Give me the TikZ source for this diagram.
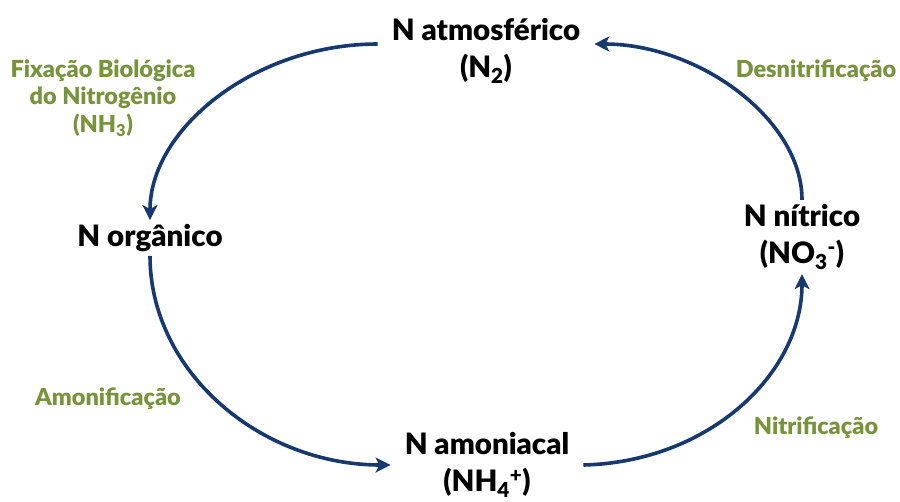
\documentclass[tikz,border=0pt]{standalone}
\usepackage{fontspec}
\setmainfont{Lato}[BoldFont={Lato Black}]
\usepackage{tikz}
\usetikzlibrary{arrows.meta,positioning}

\definecolor{cyclenavy}{RGB}{24,56,112}
\definecolor{procgreen}{RGB}{119,147,60}

\begin{document}
\begin{tikzpicture}[
    x=1pt, y=-1pt,
    stage/.style={font=\fontsize{29.5}{37}\selectfont\bfseries, align=center, inner sep=14pt, text=black},
    process/.style={font=\fontsize{23.5}{27.5}\selectfont\bfseries, align=center, text=procgreen},
    cycle/.style={draw=cyclenavy, line width=3.6pt, -{Stealth[length=15pt,width=15pt,inset=4pt]}}
]
\useasboundingbox (0,0) rectangle (900,501);

% Nitrogen pools
\node [stage] (atm) at (486,51) {N atmosférico\\(N\textsubscript{2})};
\node [stage, inner sep=4pt] (org) at (150,238) {N orgânico};
\node [stage] (amo) at (487,465) {N amoniacal\\(NH\textsubscript{4}\textsuperscript{+})};
\node [stage, inner sep=4pt] (nit) at (802,237) {N nítrico\\(NO\textsubscript{3}\textsuperscript{-})};

% Processes
\node [process] (fbn) at (103,98) {Fixação Biológica\\do Nitrogênio\\(NH\textsubscript{3})};
\node [process] (den) at (816,71) {Desnitrificação};
\node [process] (amf) at (108,399) {Amonificação};
\node [process] (ntf) at (816,428) {Nitrificação};

% Cycle arrows
\draw [cycle] ([yshift=7pt]atm.west) .. controls +(-123,0) and +(0,-91) .. (org.north);
\draw [cycle] (org.south) .. controls +(0,116) and +(-130,0) .. (amo.west);
\draw [cycle] (amo.east) .. controls +(125,-3) and +(0,100) .. (nit.south);
\draw [cycle] (nit.north) .. controls +(0,-80) and +(105,0) .. ([yshift=7pt]atm.east);

\end{tikzpicture}
\end{document}
